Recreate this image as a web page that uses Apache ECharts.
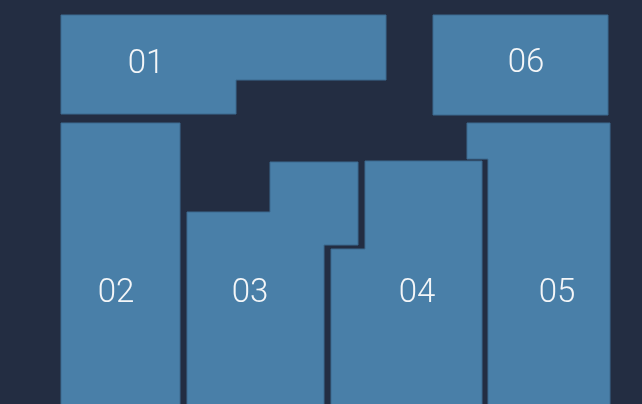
<!DOCTYPE html>
<html>
<head>
<meta charset="utf-8">
<script src="https://cdn.jsdelivr.net/npm/echarts@6/dist/echarts.min.js"></script>
<style>
html,body{margin:0;padding:0;background:#232d42;}
#main{width:642px;height:404px;}
</style>
</head>
<body>
<div id="main"></div>
<script>
// Room names
var rooms = ['01', '02', '03', '04', '05', '06'];
// Room outlines (floor-plan units, y grows downward)
var room01 = [[61,15],[386,15],[386,80],[236,80],[236,114],[61,114]];
var room02 = [[61,123],[180,123],[180,406],[61,406]];
var room03 = [[187,212],[270,212],[270,162],[358,162],[358,245],[324,245],[324,406],[187,406]];
var room04 = [[365,161],[482,161],[482,406],[331,406],[331,249],[365,249]];
var room05 = [[467,123],[610,123],[610,406],[488,406],[488,159],[467,159]];
var room06 = [[433,15],[608,15],[608,115],[433,115]];
// Label anchor points (centre of text) for each room
var labelPos = [[146,60],[116,289.5],[250,289.5],[417,289.5],[557,289.5],[526,59.5]];

var outlines = [room01, room02, room03, room04, room05, room06];
var data = rooms.map(function (name, i) {
  return { name: name, value: [i], outline: outlines[i], label: labelPos[i] };
});

var chart = echarts.init(document.getElementById('main'));
chart.setOption({
  backgroundColor: '#232d42',
  animation: false,
  grid: { left: 0, right: 0, top: 0, bottom: 0 },
  xAxis: { type: 'value', min: 0, max: 642, show: false },
  yAxis: { type: 'value', min: 0, max: 404, inverse: true, show: false },
  series: [{
    type: 'custom',
    data: data,
    renderItem: function (params, api) {
      var d = data[params.dataIndex];
      var pts = d.outline.map(function (p) { return api.coord(p); });
      var lp = api.coord(d.label);
      return {
        type: 'group',
        children: [
          {
            type: 'polygon',
            shape: { points: pts },
            style: { fill: '#497fa8', stroke: '#3d6a8f', lineWidth: 1 }
          },
          {
            type: 'text',
            x: lp[0], y: lp[1] - 12,
            style: {
              text: d.name,
              fill: '#f4f6f8',
              font: '300 33px Roboto',
              align: 'center',
              verticalAlign: 'top'
            }
          }
        ]
      };
    }
  }]
});
</script>
</body>
</html>
